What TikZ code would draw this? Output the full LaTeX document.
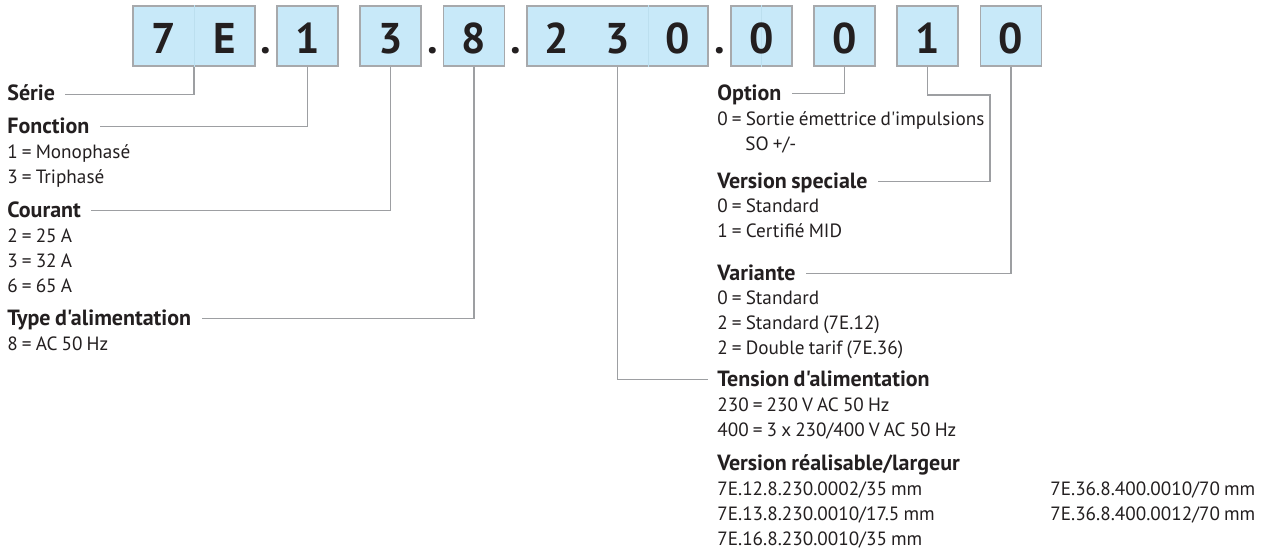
\documentclass[tikz,border=0pt]{standalone}
\usepackage{fontspec}
\setmainfont{PT Sans}[Ligatures=TeXOff,WordSpace=0.8]
\usetikzlibrary{positioning,calc}
\definecolor{boxblue}{HTML}{C8E9F9}
\definecolor{boxline}{HTML}{A7A9AC}
\definecolor{wiregray}{HTML}{9D9FA2}
\definecolor{cellsplit}{HTML}{BCDFEF}
\definecolor{ink}{HTML}{231F20}

\begin{document}
\begin{tikzpicture}[x=0.5pt,y=-0.5pt,
	cell/.style={draw=boxline,fill=boxblue,line width=0.7pt,minimum height=30pt,inner sep=0pt},
	digit/.style={text=ink,inner sep=0pt,anchor=base,font=\fontsize{21.5}{22}\selectfont\bfseries},
	head/.style={anchor=base west,inner sep=0pt,text=ink,text height=0.64em,text depth=0.02em,font=\fontsize{11}{12}\selectfont\bfseries},
	item/.style={anchor=base west,inner sep=0pt,text=ink,font=\fontsize{9.6}{11}\selectfont},
	wire/.style={draw=wiregray,line width=0.6pt},
	split/.style={draw=cellsplit,line width=0.4pt}]
	\useasboundingbox (0,0) rectangle (1272,554);

	%% the code boxes
	\def\boxy{36} % centre of the boxes
	\def\digy{53} % baseline of the digits
	\node[cell,minimum width=61pt] (bse) at (194,\boxy) {};
	\node[cell,minimum width=30.5pt] (bfn) at (307.5,\boxy) {};
	\node[cell,minimum width=30.5pt] (bcu) at (390.5,\boxy) {};
	\node[cell,minimum width=30.5pt] (bty) at (474,\boxy) {};
	\node[cell,minimum width=90.5pt] (bte) at (617.5,\boxy) {};
	\node[cell,minimum width=30.5pt] (bzero) at (761.5,\boxy) {};
	\node[cell,minimum width=30.5pt] (bop) at (844.5,\boxy) {};
	\node[cell,minimum width=30.5pt] (bvs) at (927.5,\boxy) {};
	\node[cell,minimum width=30.5pt] (bva) at (1011,\boxy) {};

	% faint cell borders inside the boxes
	\draw[split] (bse.north) -- (bse.south);
	\draw[split] ([xshift=15.25pt]bte.north) -- ([xshift=15.25pt]bte.south);
	\draw[split] (bzero.north) -- (bzero.south);

	\node[digit] (n7) at (163.5,\digy) {7};
	\node[digit] (nE) at (224.5,\digy) {E};
	\node[digit] (nF) at (307.5,\digy) {1};
	\node[digit] (nC) at (390.5,\digy) {3};
	\node[digit] (nT) at (474,\digy) {8};
	\node[digit] (n2) at (557,\digy) {2};
	\node[digit] (n3) at (617.5,\digy) {3};
	\node[digit] (n0) at (678,\digy) {0};
	\node[digit] (nZ) at (761.5,\digy) {0};
	\node[digit] (nO) at (844.5,\digy) {0};
	\node[digit] (nV) at (927.5,\digy) {1};
	\node[digit] (nA) at (1011,\digy) {0};

	\node[digit] (p1) at (266,\digy) {.};
	\node[digit] (p2) at (432.5,\digy) {.};
	\node[digit] (p3) at (515.5,\digy) {.};
	\node[digit] (p4) at (719.5,\digy) {.};

	%% left column
	\node[head] (serie) at (7,100.5) {Série};
	\node[head] (fonction) at (7,133) {Fonction};
	\node[item] (f1) at (7,158) {1 = Monophasé};
	\node[item] (f3) at (7,183) {3 = Triphasé};
	\node[head] (courant) at (7,217) {Courant};
	\node[item] (c2) at (7,242) {2 = 25 A};
	\node[item] (c3) at (7,267) {3 = 32 A};
	\node[item] (c6) at (7,292) {6 = 65 A};
	\node[head] (typealim) at (7,325) {Type d'alimentation};
	\node[item] (t8) at (7,350) {8 = AC 50 Hz};

	%% right column
	\node[head] (option) at (717,100) {Option};
	\node[item] (o0) at (717,125) {0 = Sortie émettrice d'impulsions};
	\node[item] (o0b) at (745,150) {SO +/-};
	\node[head] (vspec) at (717,188) {Version speciale};
	\node[item] (v0) at (717,212) {0 = Standard};
	\node[item] (v1) at (717,237) {1 = Certifié MID};
	\node[head] (variante) at (717,280) {Variante};
	\node[item] (a0) at (717,304) {0 = Standard};
	\node[item] (a2) at (717,329) {2 = Standard (7E.12)};
	\node[item] (a2b) at (717,354) {2 = Double tarif (7E.36)};
	\node[head] (tension) at (717,386) {Tension d'alimentation};
	\node[item] (u230) at (717,411) {230 = 230 V AC 50 Hz};
	\node[item] (u400) at (717,436) {400 = 3 x 230/400 V AC 50 Hz};
	\node[head] (version) at (717,470) {Version réalisable/largeur};
	\node[item] (r1) at (717,495) {7E.12.8.230.0002/35 mm};
	\node[item] (r2) at (717,520) {7E.13.8.230.0010/17.5 mm};
	\node[item] (r3) at (717,545) {7E.16.8.230.0010/35 mm};
	\node[item] (r4) at (1050,495) {7E.36.8.400.0010/70 mm};
	\node[item] (r5) at (1050,520) {7E.36.8.400.0012/70 mm};

	%% connectors
	\draw[wire] (bse.south) |- ([xshift=5pt]serie.east);
	\draw[wire] (bfn.south) |- ([xshift=5pt]fonction.east);
	\draw[wire] (bcu.south) |- ([xshift=5pt]courant.east);
	\draw[wire] (bty.south) |- ([xshift=5pt]typealim.east);
	\draw[wire] (bte.south) |- ([xshift=-4.5pt]tension.west);
	\draw[wire] (bop.south) |- ([xshift=5pt]option.east);
	\coordinate (vsbend) at (990,95);
	\draw[wire] (bvs.south) |- (vsbend) |- ([xshift=5pt]vspec.east);
	\draw[wire] (bva.south) |- ([xshift=5pt]variante.east);
\end{tikzpicture}
\end{document}
